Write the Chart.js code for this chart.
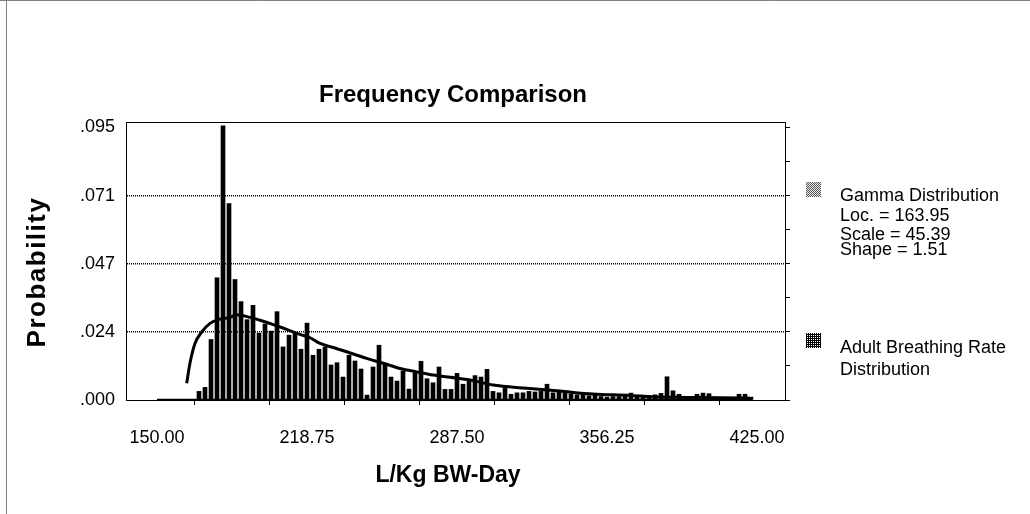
<!DOCTYPE html>
<html><head><meta charset="utf-8">
<script src="https://cdn.jsdelivr.net/npm/chart.js@4.4.0/dist/chart.umd.min.js"></script>
<style>html,body{margin:0;padding:0;background:#fff;} #wrap{width:1030px;height:514px;position:relative;}</style>
</head><body><div id="wrap"><canvas id="c" width="1030" height="514"></canvas></div>
<script>
// ---- data ----
const binStart = 169.25;   // centre of first non-empty bin (L/Kg BW-Day)
const binWidth = 2.75;
const barValues = [
  0.0030, 0.0044, 0.0211, 0.0426, 0.0956, 0.0685, 0.0420, 0.0343, 0.0280, 0.0330,
  0.0233, 0.0265, 0.0240, 0.0308, 0.0185, 0.0226, 0.0232, 0.0177, 0.0268, 0.0156,
  0.0177, 0.0185, 0.0122, 0.0130, 0.0080, 0.0156, 0.0136, 0.0108, 0.0017, 0.0115,
  0.0191, 0.0125, 0.0080, 0.0066, 0.0101, 0.0038, 0.0094, 0.0135, 0.0074, 0.0060,
  0.0115, 0.0037, 0.0037, 0.0093, 0.0055, 0.0070, 0.0085, 0.0080, 0.0107, 0.0030,
  0.0025, 0.0042, 0.0020, 0.0025, 0.0025, 0.0030, 0.0028, 0.0030, 0.0055, 0.0025,
  0.0030, 0.0025, 0.0022, 0.0018, 0.0022, 0.0015, 0.0018, 0.0012, 0.0010, 0.0012,
  0.0012, 0.0014, 0.0024, 0.0016, 0.0016, 0.0015, 0.0018, 0.0023, 0.0081, 0.0032,
  0.0020, 0.0007, 0.0007, 0.0020, 0.0024, 0.0022, 0.0007, 0.0007, 0.0000, 0.0000,
  0.0020, 0.0020, 0.0010
];
const binCenters = barValues.map((_, i) => binStart + i * binWidth);

const curveX = [163.6, 165.1, 167.4, 170.5, 174.3, 178.9, 183.5, 186.5, 192.6, 197.2,
  203.3, 209.4, 215.5, 220.1, 224.7, 230.8, 238.5, 246.1, 253.7, 261.4,
  269.0, 276.6, 284.3, 293.5, 304.0, 319.4, 334.7, 349.8, 366.8, 377.3,
  392.8, 408.0, 421.8];
const curveY = [0.0058, 0.0128, 0.0197, 0.0237, 0.0267, 0.0282, 0.0288, 0.0297, 0.0288, 0.0278,
  0.0263, 0.0246, 0.0229, 0.0217, 0.0197, 0.0183, 0.0164, 0.0145, 0.0128, 0.0110,
  0.0098, 0.0087, 0.0079, 0.0070, 0.0052, 0.0041, 0.0031, 0.0021, 0.0016, 0.0011,
  0.0009, 0.0008, 0.0006];

const baselineX = [150, 423];
const baselineY = [0, 0];

const xTickValues = [150, 184.375, 218.75, 253.125, 287.5, 321.875, 356.25, 390.625, 425];
const xTickLabels = ['150.00', '', '218.75', '', '287.50', '', '356.25', '', '425.00'];
const yTickValues = [0, 0.02375, 0.0475, 0.07125, 0.095];
const yTickLabels = ['.000', '.024', '.047', '.071', '.095'];
const yRightTickValues = [0, 0.011875, 0.02375, 0.035625, 0.0475, 0.059375, 0.07125, 0.083125, 0.095];

const titleText = 'Frequency Comparison';
const xTitle = 'L/Kg BW-Day';
const yTitle = 'Probability';
const legendGamma = ['Gamma Distribution', 'Loc. = 163.95', 'Scale = 45.39', 'Shape = 1.51'];
const legendData = ['Adult Breathing Rate', 'Distribution'];

// ---- drawing ----
const FONT = '"Liberation Sans", Arial, sans-serif';
Chart.defaults.font.family = FONT;
Chart.defaults.color = '#000';

function makePattern(dark) {
  const c = document.createElement('canvas');
  c.width = 2; c.height = 2;
  const g = c.getContext('2d');
  if (dark) {
    g.fillStyle = '#000'; g.fillRect(0, 0, 2, 2);
    g.fillStyle = '#fff'; g.fillRect(1, 1, 1, 1);
  } else {
    g.fillStyle = '#e8e8e8'; g.fillRect(0, 0, 2, 2);
    g.fillStyle = '#555'; g.fillRect(0, 0, 1, 1); g.fillRect(1, 1, 1, 1);
  }
  return c;
}

const decor = {
  id: 'decor',
  afterDraw(chart) {
    const ctx = chart.ctx, a = chart.chartArea;
    ctx.save();
    // outer page frame (top and left)
    ctx.strokeStyle = '#808080'; ctx.lineWidth = 1;
    ctx.beginPath();
    ctx.moveTo(0, 0.5); ctx.lineTo(1030, 0.5);
    ctx.moveTo(6.5, 0); ctx.lineTo(6.5, 514);
    ctx.stroke();
    // top edge of plot frame
    ctx.strokeStyle = '#000';
    ctx.beginPath();
    const ty = Math.round(a.top) + 0.5;
    ctx.moveTo(Math.round(a.left), ty); ctx.lineTo(Math.round(a.right) + 1, ty);
    ctx.stroke();

    ctx.fillStyle = '#000';
    // chart title
    ctx.font = 'bold 24px ' + FONT;
    ctx.textAlign = 'center'; ctx.textBaseline = 'alphabetic';
    ctx.fillText(titleText, 453, 102);
    // x axis title
    ctx.font = 'bold 23px ' + FONT;
    ctx.fillText(xTitle, 448, 482);
    // y axis title
    ctx.save();
    ctx.translate(38, 272);
    ctx.rotate(-Math.PI / 2);
    ctx.font = 'bold 26px ' + FONT;
    if ('letterSpacing' in ctx) ctx.letterSpacing = '1.5px';
    ctx.textBaseline = 'middle';
    ctx.fillText(yTitle, 0, 0);
    ctx.restore();

    // legend
    const p1 = ctx.createPattern(makePattern(false), 'repeat');
    const p2 = ctx.createPattern(makePattern(true), 'repeat');
    ctx.fillStyle = p1; ctx.fillRect(806, 182, 15, 15);
    ctx.fillStyle = p2; ctx.fillRect(806, 333, 15, 15);
    ctx.fillStyle = '#000';
    ctx.font = '18px ' + FONT;
    ctx.textAlign = 'left';
    const gy = [201, 221, 239.5, 254.5];
    legendGamma.forEach((t, i) => ctx.fillText(t, 840, gy[i]));
    const dy = [353, 375];
    legendData.forEach((t, i) => ctx.fillText(t, 840, dy[i]));
    ctx.restore();
  }
};

new Chart(document.getElementById('c'), {
  type: 'bar',
  data: {
    datasets: [
      {
        type: 'line', label: 'Gamma Distribution',
        data: curveX.map((x, i) => ({ x, y: curveY[i] })),
        borderColor: '#000', borderWidth: 3, pointRadius: 0, tension: 0.4,
        cubicInterpolationMode: 'monotone', fill: false, order: 0
      },
      {
        type: 'line', label: 'baseline',
        data: baselineX.map((x, i) => ({ x, y: baselineY[i] })),
        borderColor: '#000', borderWidth: 2.5, pointRadius: 0, fill: false, order: 1
      },
      {
        type: 'bar', label: 'Adult Breathing Rate Distribution',
        data: binCenters.map((x, i) => ({ x, y: barValues[i] })),
        backgroundColor: '#000', borderWidth: 0, barThickness: 4, order: 2
      }
    ]
  },
  options: {
    responsive: false, animation: false, devicePixelRatio: 1,
    layout: { padding: { top: 122, left: 0, right: 0, bottom: 0 } },
    plugins: { legend: { display: false }, title: { display: false }, tooltip: { enabled: false } },
    scales: {
      x: {
        type: 'linear', min: 135.79, max: 437.83, offset: false,
        afterBuildTicks: s => { s.ticks = xTickValues.map(v => ({ value: v })); },
        afterFit: s => { s.height = 114; },
        ticks: { autoSkip: false, maxRotation: 0, padding: 22, font: { size: 18 },
          callback: (v, i) => xTickLabels[i] },
        grid: { drawOnChartArea: false, drawTicks: true, tickLength: 5, color: '#000', lineWidth: 1 },
        border: { display: true, color: '#000', width: 1 }
      },
      y: {
        type: 'linear', position: 'left', min: 0, max: 0.0969,
        afterBuildTicks: s => { s.ticks = yTickValues.map(v => ({ value: v })); },
        afterFit: s => { s.width = 126; },
        ticks: { padding: 11, font: { size: 18 }, callback: (v, i) => yTickLabels[i] },
        grid: {
          drawTicks: false, lineWidth: 1.5,
          color: c => (c.index === 0 || c.index === yTickValues.length - 1) ? 'rgba(0,0,0,0)' : '#000'
        },
        border: { display: true, color: '#000', width: 1, dash: [1, 1] }
      },
      y2: {
        type: 'linear', position: 'right', min: 0, max: 0.0969,
        afterBuildTicks: s => { s.ticks = yRightTickValues.map(v => ({ value: v })); },
        afterFit: s => { s.width = 245; },
        ticks: { display: false },
        grid: { drawOnChartArea: false, drawTicks: true, tickLength: 5, color: '#000', lineWidth: 1 },
        border: { display: true, color: '#000', width: 1 }
      }
    }
  },
  plugins: [decor]
});
</script>
</body></html>
